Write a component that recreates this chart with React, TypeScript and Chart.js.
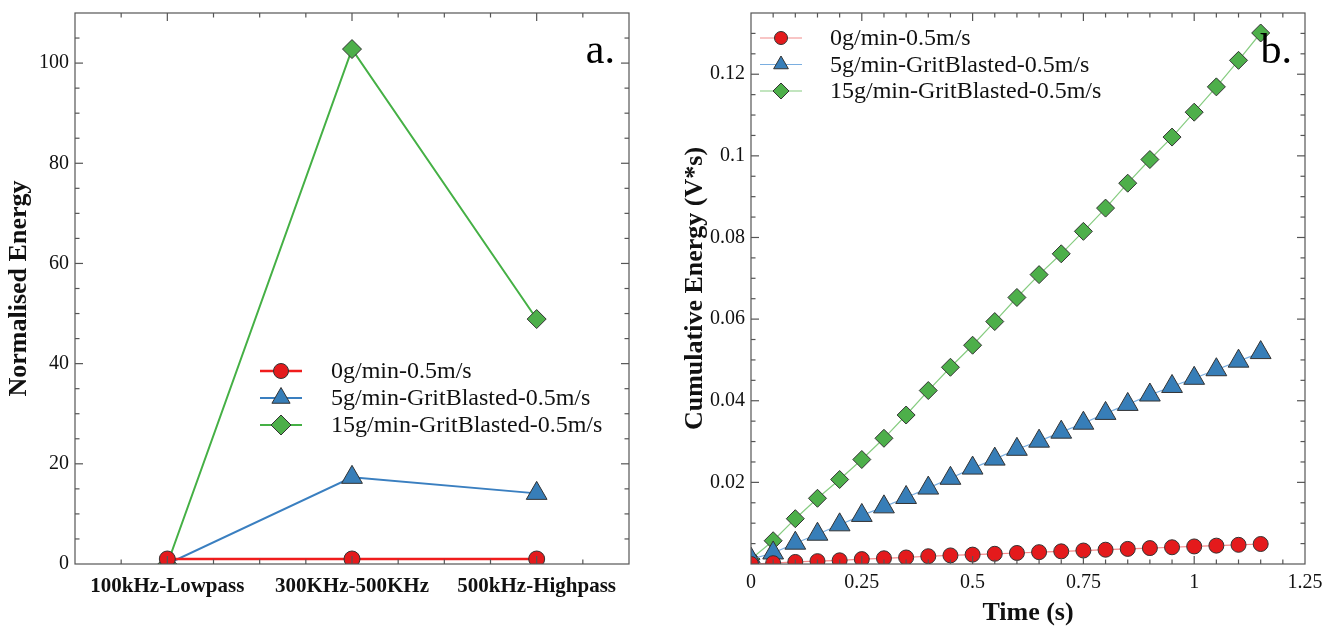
import React, { useEffect, useRef } from 'react';
import { Chart, registerables } from 'chart.js';
import { drawPoint } from 'chart.js/helpers';

Chart.register(...registerables);

const FONT = "'Liberation Serif', 'Times New Roman', Times, serif";

// ---------- Panel a data ----------
const bandCategories = ['100kHz-Lowpass', '300KHz-500KHz', '500kHz-Highpass'];
const bandPositions = [0, 1, 2];
const normRed = [1, 1, 1];
const normBlue = [0, 17.3, 14.1];
const normGreen = [0, 102.8, 48.9];
const normYTicks = [0, 20, 40, 60, 80, 100];

// ---------- Panel b data ----------
const timeValues = [0, 0.05, 0.1, 0.15, 0.2, 0.25, 0.3, 0.35, 0.4, 0.45, 0.5, 0.55, 0.6, 0.65, 0.7, 0.75, 0.8, 0.85, 0.9, 0.95, 1.0, 1.05, 1.1, 1.15];
const cumRed = [0.0, 0.0002, 0.0005, 0.0007, 0.0009, 0.0012, 0.0014, 0.0016, 0.0019, 0.0021, 0.0023, 0.0025, 0.0027, 0.0029, 0.0031, 0.0033, 0.0035, 0.0037, 0.0039, 0.0041, 0.0043, 0.0045, 0.0047, 0.0049];
const cumBlue = [0.0012, 0.0027, 0.0051, 0.0073, 0.0096, 0.0119, 0.014, 0.0163, 0.0186, 0.021, 0.0235, 0.0257, 0.0281, 0.0301, 0.0323, 0.0345, 0.0369, 0.0391, 0.0414, 0.0435, 0.0455, 0.0476, 0.0497, 0.0518];
const cumGreen = [0.0012, 0.0057, 0.0111, 0.0161, 0.0207, 0.0256, 0.0308, 0.0365, 0.0425, 0.0482, 0.0536, 0.0594, 0.0653, 0.0709, 0.076, 0.0815, 0.0872, 0.0933, 0.0991, 0.1046, 0.1107, 0.1169, 0.1234, 0.1301];
const timeTicks = [0, 0.25, 0.5, 0.75, 1, 1.25];
const timeTickLabels = ['0', '0.25', '0.5', '0.75', '1', '1.25'];
const cumYTicks = [0.02, 0.04, 0.06, 0.08, 0.1, 0.12];
const cumYTickLabels = ['0.02', '0.04', '0.06', '0.08', '0.1', '0.12'];

const seriesNames = ['0g/min-0.5m/s', '5g/min-GritBlasted-0.5m/s', '15g/min-GritBlasted-0.5m/s'];

const MARK_RED = '#e41a1c';
const MARK_BLUE = '#377eb8';
const MARK_GREEN = '#4daf4a';
const EDGE = '#333333';

// ---------- plugins ----------
const framePlugin = {
  id: 'frame',
  afterDatasetsDraw(chart: any, _args: any, opts: any) {
    const { ctx, chartArea } = chart;
    const { left, right, top, bottom } = chartArea;
    const xs = chart.scales.x;
    const ys = chart.scales.y;
    ctx.save();
    ctx.strokeStyle = opts.color;
    ctx.lineWidth = opts.lineWidth;
    const line = (x1: number, y1: number, x2: number, y2: number) => {
      ctx.beginPath();
      ctx.moveTo(x1, y1);
      ctx.lineTo(x2, y2);
      ctx.stroke();
    };
    const near = (a: number[], v: number) => a.some((m) => Math.abs(m - v) < 1e-9);
    const xTick = (v: number, len: number) => {
      const p = xs.getPixelForValue(v);
      line(p, bottom, p, bottom - len);
      line(p, top, p, top + len);
    };
    const yTick = (v: number, len: number) => {
      const p = ys.getPixelForValue(v);
      line(left, p, left + len, p);
      line(right, p, right - len, p);
    };
    const nx = Math.round((xs.max - xs.min) / opts.xMinor);
    for (let i = 1; i < nx; i++) {
      const v = xs.min + i * opts.xMinor;
      xTick(v, near(opts.xMajor, v) ? opts.majorLen : opts.minorLen);
    }
    const ny = Math.round((ys.max - ys.min) / opts.yMinor);
    for (let i = 1; i < ny; i++) {
      const v = ys.min + i * opts.yMinor;
      yTick(v, near(opts.yMajor, v) ? opts.majorLen : opts.minorLen);
    }
    ctx.strokeRect(left, top, right - left, bottom - top);
    ctx.restore();
  },
};

const seriesLegendPlugin = {
  id: 'seriesLegend',
  afterDraw(chart: any, _args: any, opts: any) {
    const { ctx, chartArea } = chart;
    chart.data.datasets.forEach((ds: any, i: number) => {
      const y = chartArea.top + opts.top + i * opts.rowHeight;
      const x0 = chartArea.left + opts.left;
      ctx.save();
      ctx.strokeStyle = ds.borderColor;
      ctx.lineWidth = ds.borderWidth;
      ctx.beginPath();
      ctx.moveTo(x0, y);
      ctx.lineTo(x0 + opts.lineLength, y);
      ctx.stroke();
      ctx.fillStyle = ds.pointBackgroundColor;
      ctx.strokeStyle = ds.pointBorderColor;
      ctx.lineWidth = ds.pointBorderWidth;
      drawPoint(ctx, { pointStyle: ds.pointStyle, radius: opts.radii[i], rotation: 0, borderWidth: ds.pointBorderWidth } as any, x0 + opts.lineLength / 2, y);
      ctx.fillStyle = '#111';
      ctx.font = `${opts.fontSize}px ${FONT}`;
      ctx.textBaseline = 'middle';
      ctx.textAlign = 'left';
      ctx.fillText(ds.label, x0 + opts.textOffset, y + opts.textDy);
      ctx.restore();
    });
  },
};

const panelLabelPlugin = {
  id: 'panelLabel',
  afterDraw(chart: any, _args: any, opts: any) {
    const { ctx, chartArea } = chart;
    ctx.save();
    ctx.fillStyle = '#000';
    ctx.font = `${opts.fontSize}px ${FONT}`;
    ctx.textAlign = 'right';
    ctx.textBaseline = 'alphabetic';
    ctx.fillText(opts.text, chartArea.right - opts.right, chartArea.top + opts.baseline);
    ctx.restore();
  },
};

function ChartCanvas({ width, height, config }: { width: number; height: number; config: any }) {
  const ref = useRef<HTMLCanvasElement | null>(null);
  useEffect(() => {
    if (!ref.current) return;
    const chart = new Chart(ref.current, config);
    return () => chart.destroy();
  }, [config]);
  return <canvas ref={ref} width={width} height={height} style={{ width, height, display: 'block' }} />;
}

const pointDefaults = { pointBorderColor: EDGE, pointBorderWidth: 1, clip: 0 };

const fitY = (w: number) => (s: any) => {
  s.width = w;
  s.paddingTop = 0;
  s.paddingBottom = 0;
};
const fitX = (h: number) => (s: any) => {
  s.height = h;
  s.paddingLeft = 0;
  s.paddingRight = 0;
};

const configA = {
  type: 'line',
  data: {
    datasets: [
      { label: seriesNames[0], data: bandPositions.map((x, i) => ({ x, y: normRed[i] })), borderColor: '#f01c1c', borderWidth: 2.5, pointStyle: 'circle', pointRadius: 8, pointBackgroundColor: MARK_RED, ...pointDefaults },
      { label: seriesNames[1], data: bandPositions.map((x, i) => ({ x, y: normBlue[i] })), borderColor: '#3a7fc0', borderWidth: 2, pointStyle: 'triangle', pointRadius: 12, pointBackgroundColor: MARK_BLUE, ...pointDefaults },
      { label: seriesNames[2], data: bandPositions.map((x, i) => ({ x, y: normGreen[i] })), borderColor: '#45b045', borderWidth: 2, pointStyle: 'rectRot', pointRadius: 9.5, pointBackgroundColor: MARK_GREEN, ...pointDefaults },
    ],
  },
  options: {
    responsive: false,
    animation: false,
    events: [],
    layout: { padding: { left: 0, top: 10, right: 31, bottom: 0 } },
    plugins: {
      legend: { display: false },
      tooltip: { enabled: false },
      frame: { color: '#555', lineWidth: 1.2, xMajor: bandPositions, xMinor: 0.25, yMajor: normYTicks, yMinor: 5, majorLen: 8, minorLen: 4.5 },
      seriesLegend: { top: 358, left: 185, rowHeight: 27, lineLength: 42, textOffset: 71, textDy: 1, fontSize: 24, radii: [7.5, 10.5, 10] },
      panelLabel: { text: 'a.', fontSize: 42, right: 14, baseline: 50 },
    },
    scales: {
      x: {
        type: 'linear',
        min: -0.5,
        max: 2.5,
        grid: { display: false, drawTicks: false },
        border: { display: false },
        afterBuildTicks: (s: any) => { s.ticks = bandPositions.map((v) => ({ value: v })); },
        afterFit: fitX(65),
        ticks: {
          autoSkip: false,
          maxRotation: 0,
          padding: 10,
          color: '#111',
          font: { family: FONT, size: 21, weight: 'bold' },
          callback: (_v: any, i: number) => bandCategories[i],
        },
      },
      y: {
        type: 'linear',
        min: 0,
        max: 110,
        grid: { display: false, drawTicks: false },
        border: { display: false },
        afterBuildTicks: (s: any) => { s.ticks = normYTicks.map((v) => ({ value: v })); },
        afterFit: fitY(75),
        ticks: {
          padding: 6,
          color: '#111',
          font: { family: FONT, size: 20 },
          callback: (v: any) => String(v),
        },
        title: {
          display: true,
          text: 'Normalised Energy',
          color: '#111',
          font: { family: FONT, size: 26, weight: 'bold' },
          padding: { top: 4, bottom: 0 },
        },
      },
    },
  },
  plugins: [framePlugin, seriesLegendPlugin, panelLabelPlugin],
};

const configB = {
  type: 'line',
  data: {
    datasets: [
      { label: seriesNames[0], data: timeValues.map((x, i) => ({ x, y: cumRed[i] })), borderColor: '#f28b8b', borderWidth: 1.2, pointStyle: 'circle', pointRadius: 7.5, pointBackgroundColor: MARK_RED, ...pointDefaults },
      { label: seriesNames[1], data: timeValues.map((x, i) => ({ x, y: cumBlue[i] })), borderColor: '#7aaee0', borderWidth: 1.2, pointStyle: 'triangle', pointRadius: 12, pointBackgroundColor: MARK_BLUE, ...pointDefaults },
      { label: seriesNames[2], data: timeValues.map((x, i) => ({ x, y: cumGreen[i] })), borderColor: '#86cc80', borderWidth: 1.2, pointStyle: 'rectRot', pointRadius: 9, pointBackgroundColor: MARK_GREEN, ...pointDefaults },
    ],
  },
  options: {
    responsive: false,
    animation: false,
    events: [],
    layout: { padding: { left: 0, top: 10, right: 20, bottom: 0 } },
    plugins: {
      legend: { display: false },
      tooltip: { enabled: false },
      frame: { color: '#555', lineWidth: 1.2, xMajor: timeTicks, xMinor: 0.05, yMajor: cumYTicks, yMinor: 0.005, majorLen: 8, minorLen: 4.5 },
      seriesLegend: { top: 25, left: 9, rowHeight: 26.5, lineLength: 42, textOffset: 70, textDy: 1, fontSize: 24, radii: [6.5, 8.5, 8] },
      panelLabel: { text: 'b.', fontSize: 42, right: 13, baseline: 50 },
    },
    scales: {
      x: {
        type: 'linear',
        min: 0,
        max: 1.25,
        grid: { display: false, drawTicks: false },
        border: { display: false },
        afterBuildTicks: (s: any) => { s.ticks = timeTicks.map((v) => ({ value: v })); },
        afterFit: fitX(65),
        ticks: {
          autoSkip: false,
          maxRotation: 0,
          padding: 7,
          color: '#111',
          font: { family: FONT, size: 20 },
          callback: (_v: any, i: number) => timeTickLabels[i],
        },
        title: {
          display: true,
          text: 'Time (s)',
          color: '#111',
          font: { family: FONT, size: 26, weight: 'bold' },
          padding: { top: 0, bottom: 0 },
        },
      },
      y: {
        type: 'linear',
        min: 0,
        max: 0.135,
        grid: { display: false, drawTicks: false },
        border: { display: false },
        afterBuildTicks: (s: any) => { s.ticks = cumYTicks.map((v) => ({ value: v })); },
        afterFit: fitY(91),
        ticks: {
          padding: 6,
          color: '#111',
          font: { family: FONT, size: 20 },
          callback: (_v: any, i: number) => cumYTickLabels[i],
        },
        title: {
          display: true,
          text: 'Cumulative Energy (V*s)',
          color: '#111',
          font: { family: FONT, size: 26, weight: 'bold' },
          padding: { top: 20, bottom: 0 },
        },
      },
    },
  },
  plugins: [framePlugin, seriesLegendPlugin, panelLabelPlugin],
};

export default function App() {
  return (
    <div style={{ position: 'absolute', left: 0, top: 0, width: 1325, height: 629, background: '#fff', overflow: 'hidden' }}>
      <div style={{ position: 'absolute', left: 0, top: 0 }}>
        <ChartCanvas width={660} height={629} config={configA} />
      </div>
      <div style={{ position: 'absolute', left: 660, top: 0 }}>
        <ChartCanvas width={665} height={629} config={configB} />
      </div>
    </div>
  );
}
